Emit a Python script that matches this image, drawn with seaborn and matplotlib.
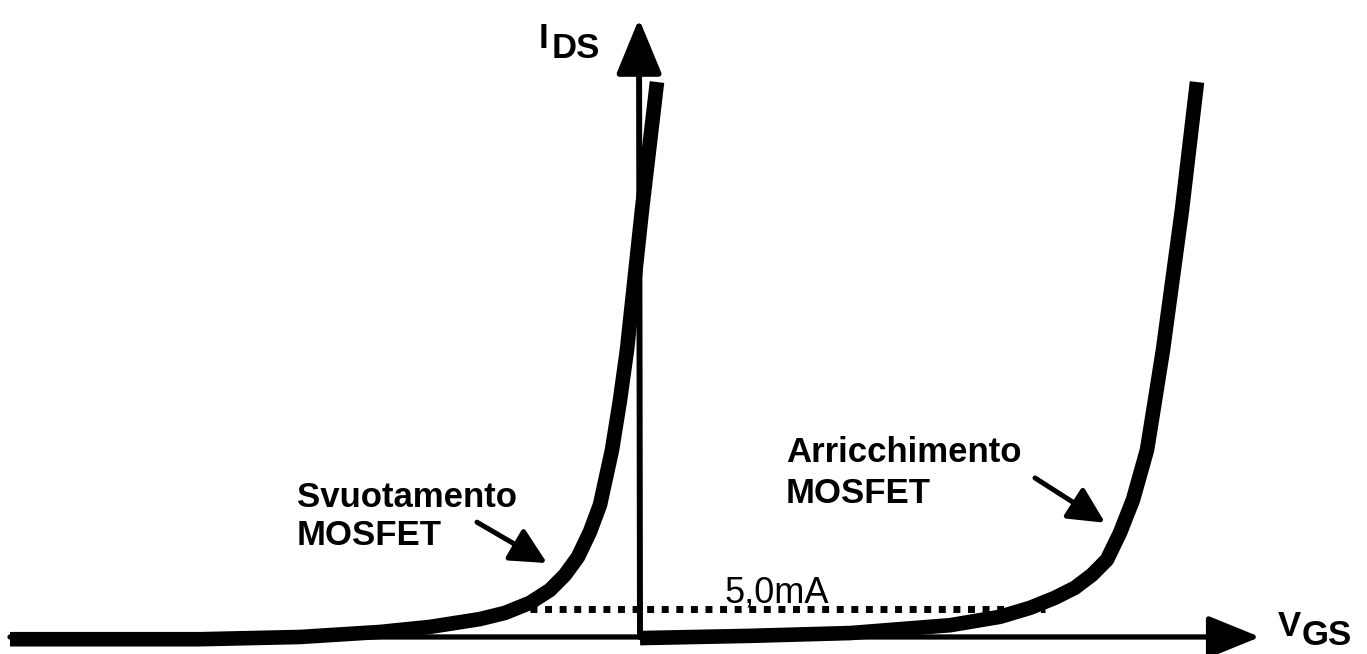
import numpy as np
import pandas as pd
import matplotlib
matplotlib.use("Agg")
import matplotlib.pyplot as plt
import seaborn as sns

# ============================================================
# Dati (V_GS in V, I_DS in mA)
# ============================================================

# MOSFET a svuotamento
dep_v = [-6.30, -4.40, -3.40, -2.60, -2.10, -1.60, -1.35, -1.10, -0.90,
         -0.75, -0.62, -0.50, -0.40, -0.28, -0.20, -0.13, 0.02, 0.17]
dep_i = [-0.4, -0.4, 0.0, 0.9, 1.8, 3.2, 4.3, 6.1, 8.4,
         11.1, 14.3, 18.8, 23.6, 33.4, 42.3, 51.3, 76.3, 99.1]

# MOSFET ad arricchimento
enh_v = [0.00, 1.10, 2.10, 2.60, 3.10, 3.60, 3.90, 4.15, 4.35, 4.52,
         4.67, 4.80, 4.93, 5.07, 5.15, 5.23, 5.42, 5.57]
enh_i = [-0.2, 0.2, 0.7, 1.4, 2.1, 3.6, 5.2, 7.0, 8.8, 11.1,
         13.8, 18.6, 24.5, 33.4, 42.3, 51.3, 76.3, 99.1]

# livello di riferimento 5,0 mA
ref_i = 5.0
ref_v = [-1.10, 4.05]

curve = pd.concat([
    pd.DataFrame({"vgs": dep_v, "ids": dep_i, "tipo": "svuotamento"}),
    pd.DataFrame({"vgs": enh_v, "ids": enh_i, "tipo": "arricchimento"}),
])

# ============================================================
# Figura
# ============================================================

sns.set_theme(style="white")
plt.rcParams["font.family"] = ["Liberation Sans", "DejaVu Sans"]
plt.rcParams["text.color"] = "black"

fig = plt.figure(figsize=(13.67, 6.54), dpi=100)
ax = fig.add_axes([0, 0, 1, 1])
ax.set_xlim(-6.40, 7.27)
ax.set_ylim(-3.04, 113.75)
ax.axis("off")

# assi con frecce
ax.annotate("", xy=(6.20, 0), xytext=(-6.30, 0),
            arrowprops=dict(arrowstyle="-|>,head_length=3.2,head_width=1.3",
                            lw=3.8, color="black", shrinkA=0, shrinkB=0,
                            mutation_scale=10))
ax.annotate("", xy=(-0.01, 110.4), xytext=(0, 0),
            arrowprops=dict(arrowstyle="-|>,head_length=3.4,head_width=1.4",
                            lw=4.3, color="black", shrinkA=0, shrinkB=0,
                            mutation_scale=10))

# curve caratteristiche
sns.lineplot(data=curve, x="vgs", y="ids", units="tipo", estimator=None,
             sort=False, color="black", linewidth=10.5, solid_capstyle="butt",
             solid_joinstyle="round", ax=ax, legend=False)

# linea tratteggiata 5,0 mA
ax.plot(ref_v, [ref_i, ref_i], color="black", linewidth=5,
        linestyle=(0, (1.0, 1.1)), dash_capstyle="butt")
ax.text(0.85, 6.07, "5,0mA", fontsize=26, va="baseline", ha="left")

# etichette assi
ax.text(-1.01, 105.2, "I", fontsize=25, fontweight="bold", va="baseline")
ax.text(-0.88, 103.4, "DS", fontsize=25, fontweight="bold", va="baseline")
ax.text(6.38, 0.18, "V", fontsize=25, fontweight="bold", va="baseline")
ax.text(6.62, -1.43, "GS", fontsize=25, fontweight="bold", va="baseline")

# etichette curve
for txt, yy in [("Svuotamento", 23.2), ("MOSFET", 16.4)]:
    ax.text(-3.43, yy, txt, fontsize=25, fontweight="bold", va="baseline")
for txt, yy in [("Arricchimento", 31.25), ("MOSFET", 23.93)]:
    ax.text(1.46, yy, txt, fontsize=25, fontweight="bold", va="baseline")

ax.annotate("", xy=(-0.93, 13.2), xytext=(-1.63, 20.5),
            arrowprops=dict(arrowstyle="-|>,head_length=2.2,head_width=1.1",
                            lw=3.6, color="black", shrinkA=0, shrinkB=0,
                            mutation_scale=10))
ax.annotate("", xy=(4.65, 20.4), xytext=(3.95, 28.4),
            arrowprops=dict(arrowstyle="-|>,head_length=2.2,head_width=1.1",
                            lw=3.6, color="black", shrinkA=0, shrinkB=0,
                            mutation_scale=10))

fig.savefig("out.png", dpi=100, facecolor="white")
